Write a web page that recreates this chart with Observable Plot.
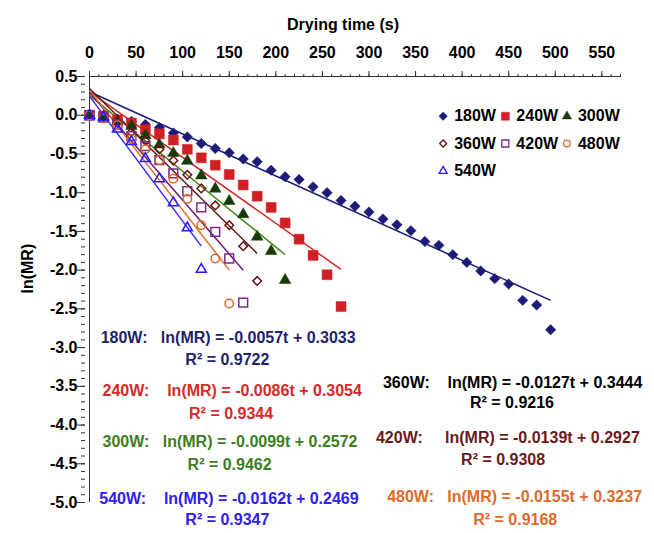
<!DOCTYPE html>
<html><head><meta charset="utf-8">
<script src="https://cdn.jsdelivr.net/npm/d3@7"></script>
<script src="https://cdn.jsdelivr.net/npm/@observablehq/plot@0.6"></script>
<style>
body{margin:0;background:#fff;}
#chart svg text{white-space:pre;}
</style>
</head><body><div id="chart"></div>
<script>
// ---------- data ----------
const powers = ["180W","240W","300W","360W","420W","480W","540W"];
const timeSec = [0,15,30,45,60,75,90,105,120,135,150,165,180,195,210,225,240,255,270,285,300,315,330,345,360,375,390,405,420,435,450,465,480,495];
const lnMR180 = [0,-0.01,-0.05,-0.08,-0.12,-0.16,-0.23,-0.28,-0.365,-0.43,-0.485,-0.565,-0.60,-0.71,-0.795,-0.83,-0.925,-1.00,-1.10,-1.175,-1.25,-1.34,-1.415,-1.49,-1.63,-1.68,-1.80,-1.90,-2.01,-2.11,-2.18,-2.39,-2.45,-2.77];
const lnMR240 = [0,-0.01,-0.06,-0.10,-0.185,-0.24,-0.32,-0.44,-0.55,-0.645,-0.765,-0.90,-1.045,-1.19,-1.39,-1.60,-1.81,-2.06,-2.47];
const lnMR300 = [0,-0.02,-0.08,-0.14,-0.26,-0.38,-0.49,-0.59,-0.78,-0.95,-1.11,-1.28,-1.57,-1.755,-2.13];
const lnMR360 = [0,-0.03,-0.10,-0.22,-0.33,-0.44,-0.585,-0.77,-0.945,-1.165,-1.42,-1.69,-2.14];
const lnMR420 = [0,-0.03,-0.12,-0.27,-0.40,-0.58,-0.75,-0.98,-1.19,-1.505,-1.85,-2.42];
const lnMR480 = [0,-0.04,-0.13,-0.31,-0.44,-0.58,-0.82,-1.08,-1.42,-1.85,-2.43];
const lnMR540 = [0,-0.03,-0.18,-0.34,-0.56,-0.82,-1.13,-1.455,-1.99];
const series = [lnMR180,lnMR240,lnMR300,lnMR360,lnMR420,lnMR480,lnMR540];

// fitted lines (as drawn): value at t=0 and at the last time
const fitStartValue = [0.3033,0.3054,0.2572,0.3444,0.2927,0.3237,0.2469];
const fitEndTime = [495,270,210,180,165,150,120];
const fitEndValue = [-2.39,-1.99,-1.80,-1.785,-2.00,-2.00,-1.69];

const equations = ["ln(MR) = -0.0057t + 0.3033","ln(MR) = -0.0086t + 0.3054","ln(MR) = -0.0099t + 0.2572","ln(MR) = -0.0127t + 0.3444","ln(MR) = -0.0139t + 0.2927","ln(MR) = -0.0155t + 0.3237","ln(MR) = -0.0162t + 0.2469"];
const rSquared = ["0.9722","0.9344","0.9462","0.9216","0.9308","0.9168","0.9347"];

const xTitle = "Drying time (s)";
const yTitle = "ln(MR)";
const xTicks = [0,50,100,150,200,250,300,350,400,450,500,550];
const xMinor = d3.range(0, 571, 10);
const yTicks = [-5,-4.5,-4,-3.5,-3,-2.5,-2,-1.5,-1,-0.5,0,0.5];
const yMinor = d3.range(-50, 6, 1).map(d => d / 10);

// ---------- styles / layout ----------
const markerColor = ["#1c1c78","#d11f26","#163a08","#6a1414","#7b2a8b","#e0682a","#2a1aff"];
const lineColor   = ["#1c1c78","#d42a2a","#4a8a24","#5a1a10","#6a1a7a","#e07030","#3a2aff"];
const textColor   = ["#1f1f6e","#d42a2a","#3e7e22","#000000","#6a1a1a","#e06a2a","#3020f0"];
const symbols = ["diamond2","square","triangle","diamond2","square2","circle","triangle2"];
const filled  = [true,true,true,false,false,false,false];
const radius  = [4.7,5.6,4.3,3.9,5.6,4.2,4.8];
const gaps = [3,4,3,4,5,3,4];
// annotation anchors (data units): equation line start, R² centre
const eqX = [12,14,14,315,307.5,319.5,10.5];
const eqY = [-2.87,-3.565,-4.22,-3.45,-4.17,-4.93,-4.95];
const r2X = [148,152,150.4,453.5,444,457,148];
const r2Y = [-3.155,-3.85,-4.51,-3.71,-4.445,-5.23,-5.23];
// legend grid
const legendCol = [0,1,2,0,1,2,0];
const legendRow = [0,0,0,1,1,1,2];
const legendColX = [379.6,446.4,512.5];
const legendRowY = [-0.013,-0.365,-0.72];
const FS = 16;

// ---------- build ----------
const marks = [];
marks.push(Plot.ruleY([0.5], {stroke:"#333", strokeWidth:1}));
marks.push(Plot.ruleX([0], {stroke:"#333", strokeWidth:1}));
marks.push(Plot.axisX(xMinor, {anchor:"top", tickSize:3, fill:"none", stroke:"#333", label:null}));
marks.push(Plot.axisX(xTicks, {anchor:"top", tickSize:6, tickPadding:13, stroke:"#333", fill:"#000",
  tickFormat: d => String(d), label:null}));
marks.push(Plot.axisY(yMinor, {anchor:"left", tickSize:4, insetLeft:-4, fill:"none", stroke:"#333", label:null}));
marks.push(Plot.axisY(yTicks, {anchor:"left", tickSize:8, insetLeft:-4, fill:"none", stroke:"#333", label:null}));
marks.push(Plot.axisY(yTicks, {anchor:"left", tickSize:0, tickPadding:12, fill:"#000",
  tickFormat: d => d.toFixed(1), label:null}));
marks.push(Plot.text([xTitle], {text: d => d, frameAnchor:"top", dy:-58, dx:-12, fill:"#000", fontSize:FS, fontWeight:"bold"}));
marks.push(Plot.text([yTitle], {text: d => d, frameAnchor:"left", dx:-62, dy:4, rotate:-90, fill:"#000", fontSize:FS, fontWeight:"bold"}));

// fit lines
powers.forEach((p, i) => {
  marks.push(Plot.link([{p}], {x1: () => 0, y1: () => fitStartValue[i], x2: () => fitEndTime[i], y2: () => fitEndValue[i],
    stroke: lineColor[i], strokeWidth: 1.5}));
});
// points
powers.forEach((p, i) => {
  const data = series[i].map((v, j) => ({t: timeSec[j], v}));
  marks.push(Plot.dot(data, {x:"t", y:"v", symbol: symbols[i], r: radius[i],
    fill: filled[i] ? markerColor[i] : "none", stroke: markerColor[i], strokeWidth: filled[i] ? 0.5 : 1.5}));
});
// legend
powers.forEach((p, i) => {
  const d = [{x: legendColX[legendCol[i]], y: legendRowY[legendRow[i]], label: p}];
  marks.push(Plot.dot(d, {x:"x", y:"y", symbol: symbols[i], r: radius[i]*0.8,
    fill: filled[i] ? markerColor[i] : "none", stroke: markerColor[i], strokeWidth: filled[i] ? 0.5 : 1.3}));
  marks.push(Plot.text(d, {x:"x", y:"y", text:"label", dx: 11, textAnchor:"start", fill:"#000", fontSize:FS, fontWeight:"bold"}));
});
// equations
powers.forEach((p, i) => {
  const d = [{x: eqX[i], y: eqY[i], label: p + ":" + "\u00A0".repeat(gaps[i]) + equations[i]}];
  marks.push(Plot.text(d, {x:"x", y:"y", text:"label", textAnchor:"start", fill:textColor[i], fontSize:FS, fontWeight:"bold"}));
  const r = [{x: r2X[i], y: r2Y[i], label: "R\u00B2 = " + rSquared[i]}];
  marks.push(Plot.text(r, {x:"x", y:"y", text:"label", textAnchor:"middle", fill:textColor[i], fontSize:FS, fontWeight:"bold"}));
});

const chart = Plot.plot({
  width: 654, height: 533,
  marginLeft: 89, marginRight: 34, marginTop: 76, marginBottom: 31,
  style: {fontFamily: "'Liberation Sans', Arial, sans-serif", fontSize: "16px", fontWeight: "bold", background: "#fff", overflow: "visible"},
  x: {domain: [0, 570]},
  y: {domain: [-5, 0.5]},
  marks
});
document.getElementById("chart").appendChild(chart);
</script>
</body></html>
